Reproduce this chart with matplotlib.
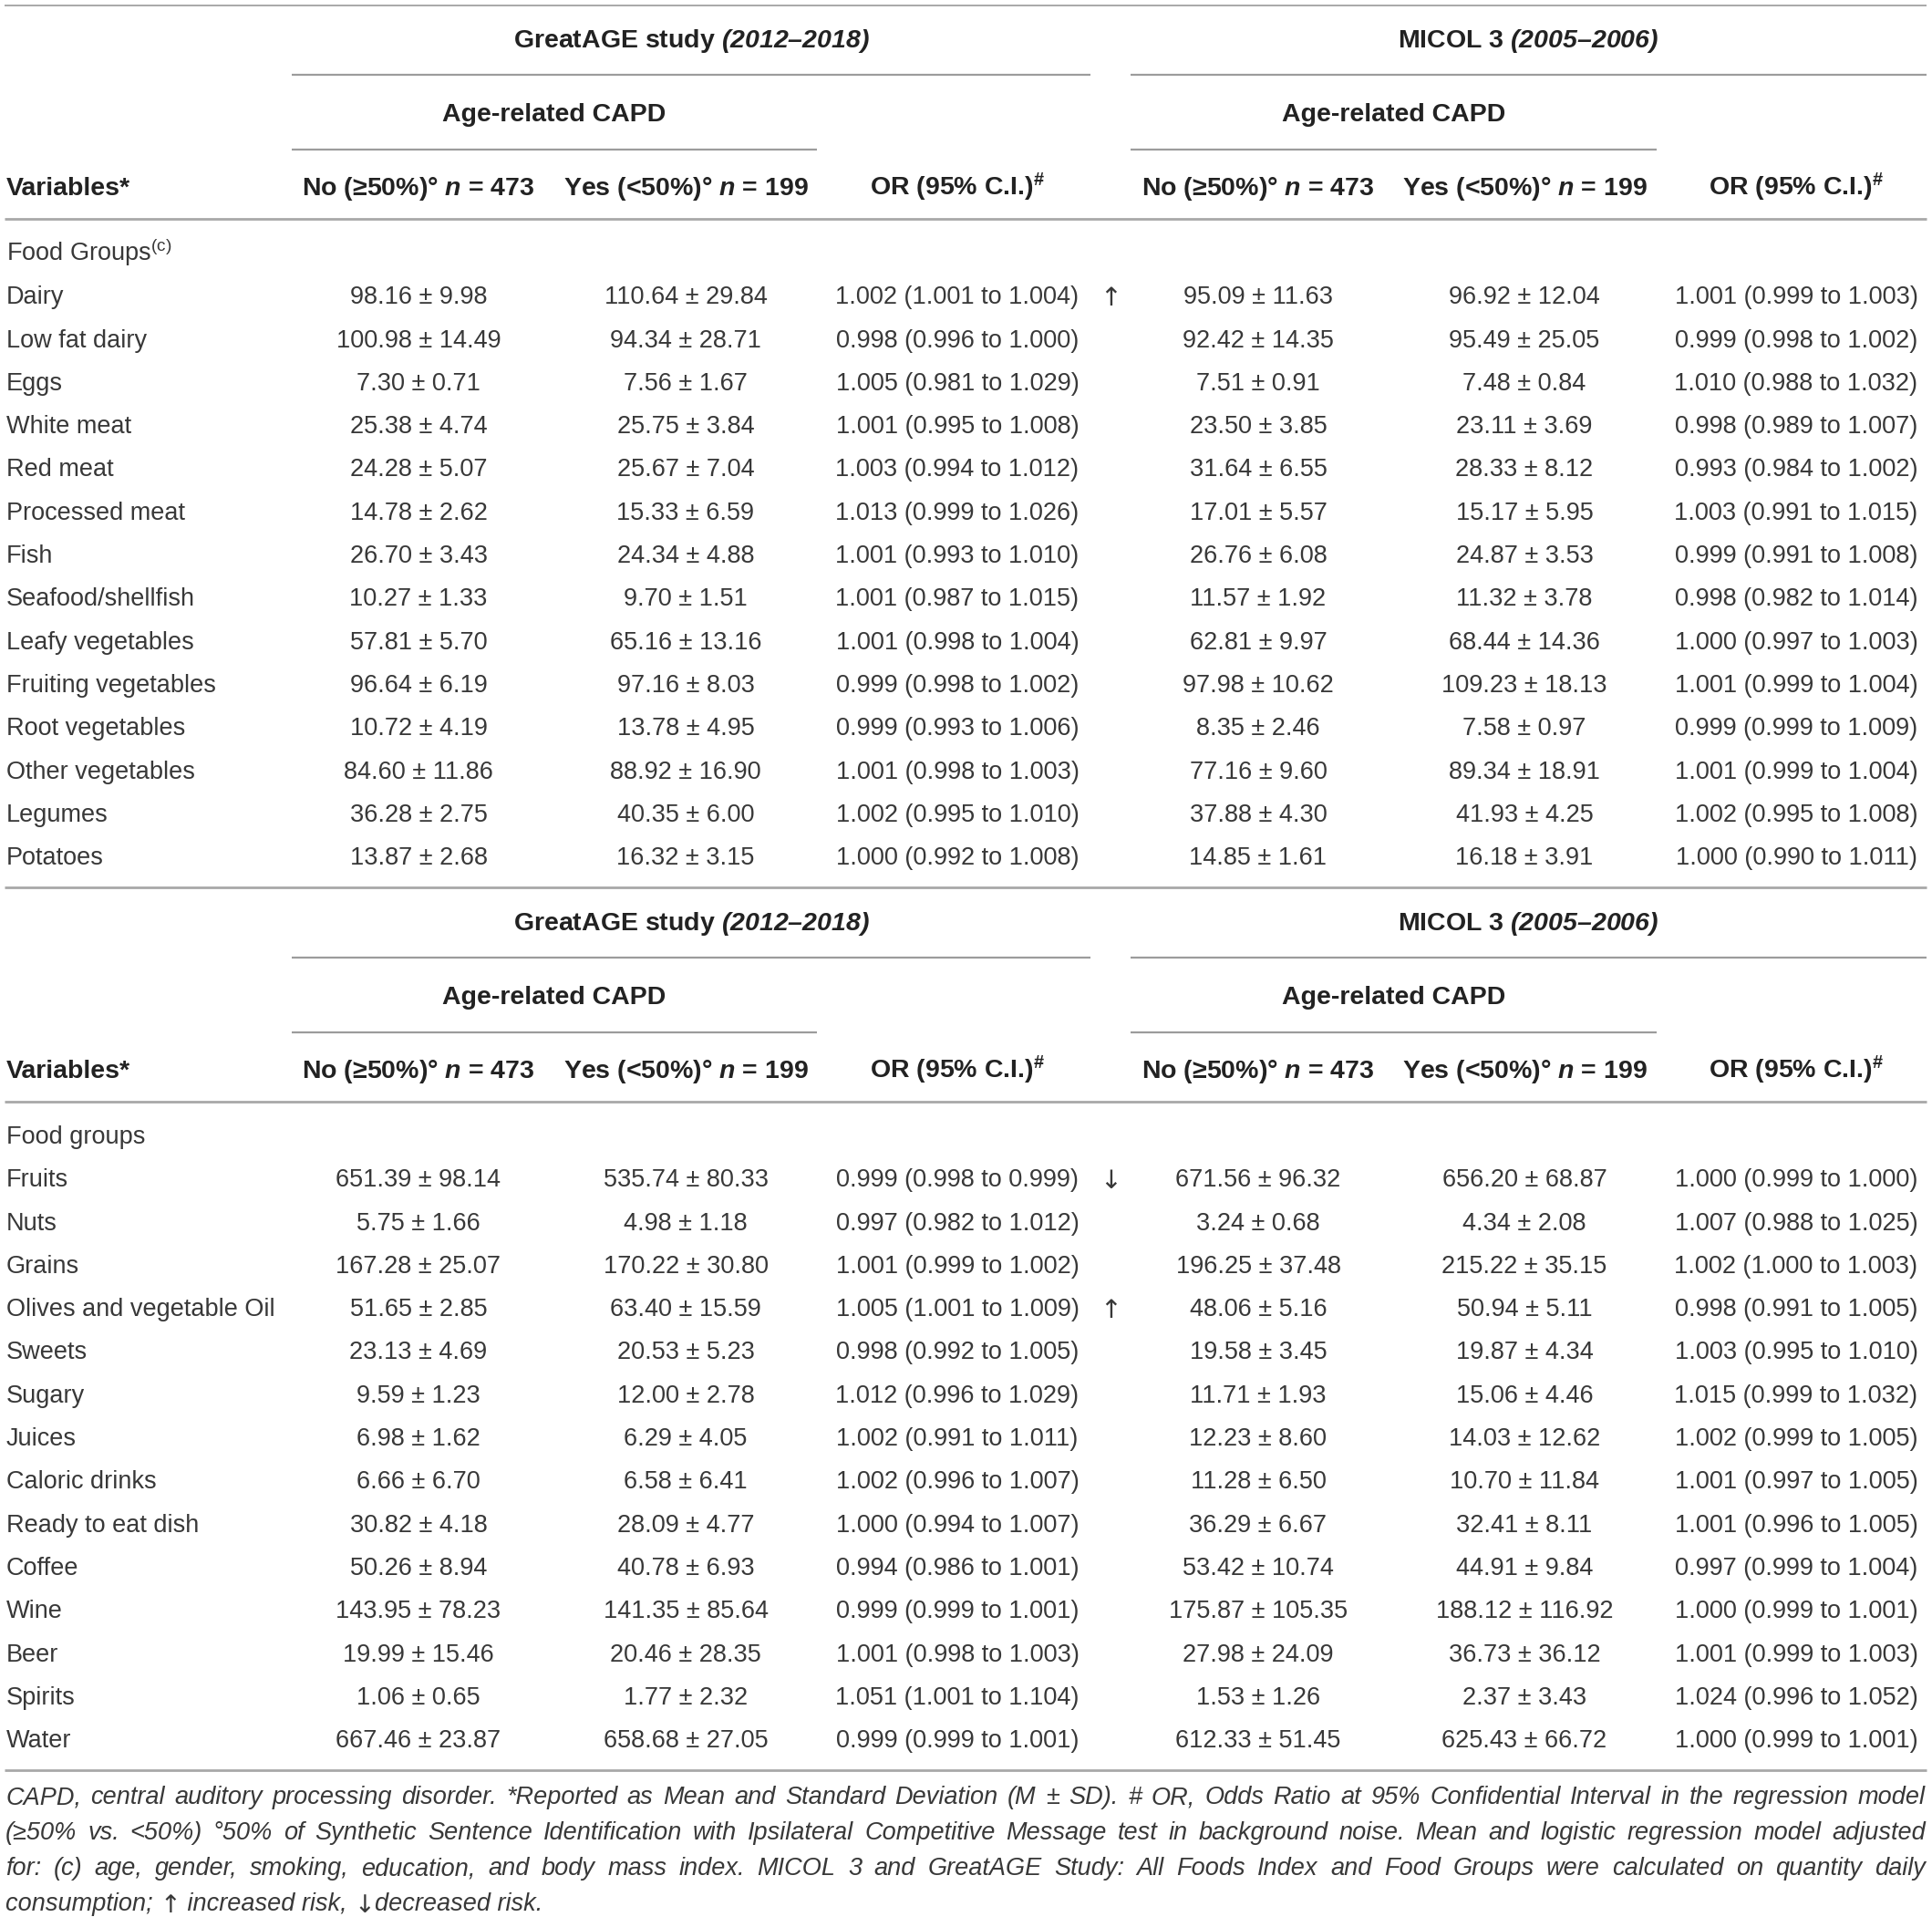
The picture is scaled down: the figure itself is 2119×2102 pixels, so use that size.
import matplotlib
matplotlib.use('Agg')
import matplotlib.pyplot as plt

plt.rcParams['font.family'] = ['Liberation Sans', 'DejaVu Sans']
plt.rcParams['mathtext.fontset'] = 'custom'
plt.rcParams['mathtext.rm'] = 'Liberation Sans'
plt.rcParams['mathtext.it'] = 'Liberation Sans:italic'
plt.rcParams['mathtext.bf'] = 'Liberation Sans:bold'
plt.rcParams['mathtext.bfit'] = 'Liberation Sans:italic:bold'

# ---- table data ----
studies = ['GreatAGE study $\\mathbfit{(2012–2018)}$', 'MICOL 3 $\\mathbfit{(2005–2006)}$']
subheader = 'Age-related CAPD'
col_heads = ['No (≥50%)° $\\mathbfit{n}$ = 473', 'Yes (<50%)° $\\mathbfit{n}$ = 199',
             'OR (95% C.I.)$^{\\mathbf{\\#}}$']
group_titles = ['Food Groups$^{\\mathrm{(c)}}$', 'Food groups']

foods_a = ['Dairy', 'Low fat dairy', 'Eggs', 'White meat', 'Red meat', 'Processed meat', 'Fish',
           'Seafood/shellfish', 'Leafy vegetables', 'Fruiting vegetables', 'Root vegetables',
           'Other vegetables', 'Legumes', 'Potatoes']
great_no_a = ['98.16 ± 9.98', '100.98 ± 14.49', '7.30 ± 0.71', '25.38 ± 4.74', '24.28 ± 5.07',
              '14.78 ± 2.62', '26.70 ± 3.43', '10.27 ± 1.33', '57.81 ± 5.70', '96.64 ± 6.19',
              '10.72 ± 4.19', '84.60 ± 11.86', '36.28 ± 2.75', '13.87 ± 2.68']
great_yes_a = ['110.64 ± 29.84', '94.34 ± 28.71', '7.56 ± 1.67', '25.75 ± 3.84', '25.67 ± 7.04',
               '15.33 ± 6.59', '24.34 ± 4.88', '9.70 ± 1.51', '65.16 ± 13.16', '97.16 ± 8.03',
               '13.78 ± 4.95', '88.92 ± 16.90', '40.35 ± 6.00', '16.32 ± 3.15']
great_or_a = ['1.002 (1.001 to 1.004)', '0.998 (0.996 to 1.000)', '1.005 (0.981 to 1.029)',
              '1.001 (0.995 to 1.008)', '1.003 (0.994 to 1.012)', '1.013 (0.999 to 1.026)',
              '1.001 (0.993 to 1.010)', '1.001 (0.987 to 1.015)', '1.001 (0.998 to 1.004)',
              '0.999 (0.998 to 1.002)', '0.999 (0.993 to 1.006)', '1.001 (0.998 to 1.003)',
              '1.002 (0.995 to 1.010)', '1.000 (0.992 to 1.008)']
micol_no_a = ['95.09 ± 11.63', '92.42 ± 14.35', '7.51 ± 0.91', '23.50 ± 3.85', '31.64 ± 6.55',
              '17.01 ± 5.57', '26.76 ± 6.08', '11.57 ± 1.92', '62.81 ± 9.97', '97.98 ± 10.62',
              '8.35 ± 2.46', '77.16 ± 9.60', '37.88 ± 4.30', '14.85 ± 1.61']
micol_yes_a = ['96.92 ± 12.04', '95.49 ± 25.05', '7.48 ± 0.84', '23.11 ± 3.69', '28.33 ± 8.12',
               '15.17 ± 5.95', '24.87 ± 3.53', '11.32 ± 3.78', '68.44 ± 14.36', '109.23 ± 18.13',
               '7.58 ± 0.97', '89.34 ± 18.91', '41.93 ± 4.25', '16.18 ± 3.91']
micol_or_a = ['1.001 (0.999 to 1.003)', '0.999 (0.998 to 1.002)', '1.010 (0.988 to 1.032)',
              '0.998 (0.989 to 1.007)', '0.993 (0.984 to 1.002)', '1.003 (0.991 to 1.015)',
              '0.999 (0.991 to 1.008)', '0.998 (0.982 to 1.014)', '1.000 (0.997 to 1.003)',
              '1.001 (0.999 to 1.004)', '0.999 (0.999 to 1.009)', '1.001 (0.999 to 1.004)',
              '1.002 (0.995 to 1.008)', '1.000 (0.990 to 1.011)']

foods_b = ['Fruits', 'Nuts', 'Grains', 'Olives and vegetable Oil', 'Sweets', 'Sugary', 'Juices',
           'Caloric drinks', 'Ready to eat dish', 'Coffee', 'Wine', 'Beer', 'Spirits', 'Water']
great_no_b = ['651.39 ± 98.14', '5.75 ± 1.66', '167.28 ± 25.07', '51.65 ± 2.85', '23.13 ± 4.69',
              '9.59 ± 1.23', '6.98 ± 1.62', '6.66 ± 6.70', '30.82 ± 4.18', '50.26 ± 8.94',
              '143.95 ± 78.23', '19.99 ± 15.46', '1.06 ± 0.65', '667.46 ± 23.87']
great_yes_b = ['535.74 ± 80.33', '4.98 ± 1.18', '170.22 ± 30.80', '63.40 ± 15.59', '20.53 ± 5.23',
               '12.00 ± 2.78', '6.29 ± 4.05', '6.58 ± 6.41', '28.09 ± 4.77', '40.78 ± 6.93',
               '141.35 ± 85.64', '20.46 ± 28.35', '1.77 ± 2.32', '658.68 ± 27.05']
great_or_b = ['0.999 (0.998 to 0.999)', '0.997 (0.982 to 1.012)', '1.001 (0.999 to 1.002)',
              '1.005 (1.001 to 1.009)', '0.998 (0.992 to 1.005)', '1.012 (0.996 to 1.029)',
              '1.002 (0.991 to 1.011)', '1.002 (0.996 to 1.007)', '1.000 (0.994 to 1.007)',
              '0.994 (0.986 to 1.001)', '0.999 (0.999 to 1.001)', '1.001 (0.998 to 1.003)',
              '1.051 (1.001 to 1.104)', '0.999 (0.999 to 1.001)']
micol_no_b = ['671.56 ± 96.32', '3.24 ± 0.68', '196.25 ± 37.48', '48.06 ± 5.16', '19.58 ± 3.45',
              '11.71 ± 1.93', '12.23 ± 8.60', '11.28 ± 6.50', '36.29 ± 6.67', '53.42 ± 10.74',
              '175.87 ± 105.35', '27.98 ± 24.09', '1.53 ± 1.26', '612.33 ± 51.45']
micol_yes_b = ['656.20 ± 68.87', '4.34 ± 2.08', '215.22 ± 35.15', '50.94 ± 5.11', '19.87 ± 4.34',
               '15.06 ± 4.46', '14.03 ± 12.62', '10.70 ± 11.84', '32.41 ± 8.11', '44.91 ± 9.84',
               '188.12 ± 116.92', '36.73 ± 36.12', '2.37 ± 3.43', '625.43 ± 66.72']
micol_or_b = ['1.000 (0.999 to 1.000)', '1.007 (0.988 to 1.025)', '1.002 (1.000 to 1.003)',
              '0.998 (0.991 to 1.005)', '1.003 (0.995 to 1.010)', '1.015 (0.999 to 1.032)',
              '1.002 (0.999 to 1.005)', '1.001 (0.997 to 1.005)', '1.001 (0.996 to 1.005)',
              '0.997 (0.999 to 1.004)', '1.000 (0.999 to 1.001)', '1.001 (0.999 to 1.003)',
              '1.024 (0.996 to 1.052)', '1.000 (0.999 to 1.001)']

risk_arrows = {'Dairy': '↑', 'Fruits': '↓', 'Olives and vegetable Oil': '↑'}

footnote = [
    'CAPD, central auditory processing disorder. *Reported as Mean and Standard Deviation (M ± SD). '
    '# OR, Odds Ratio at 95% Confidential Interval in the regression model',
    '(≥50% vs. <50%) °50% of Synthetic Sentence Identification with Ipsilateral Competitive '
    'Message test in background noise. Mean and logistic regression model adjusted',
    'for: (c) age, gender, smoking, education, and body mass index. MICOL 3 and GreatAGE Study: '
    'All Foods Index and Food Groups were calculated on quantity daily',
]
footnote_last = ['consumption; ', '↑', ' increased risk, ', '↓', 'decreased risk.']

sections = [
    (group_titles[0], foods_a, [great_no_a, great_yes_a, great_or_a, micol_no_a, micol_yes_a, micol_or_a]),
    (group_titles[1], foods_b, [great_no_b, great_yes_b, great_or_b, micol_no_b, micol_yes_b, micol_or_b]),
]

# ---- layout (pixels) ----
W, H = 2119, 2102
col_x = [459, 752, 1050, 1380, 1672, 1970]
arrow_x = 1218
study_spans = [(320, 1196), (1240, 2113)]
sub_spans = [(320, 896), (1240, 1817)]
row_h = 47.3
sec_off = 968
base = 10          # center -> baseline
fs_data, fs_head = 19.5, 20.5
c_data, c_head = '#383838', '#222222'
c_line = '#9c9c9c'
arrow_font = ['DejaVu Sans']

fig = plt.figure(figsize=(W / 100, H / 100), dpi=100)
ax = fig.add_axes([0, 0, 1, 1])
ax.set_xlim(0, W)
ax.set_ylim(H, 0)
ax.axis('off')


def hline(x0, x1, y, lw=1.6, color=c_line):
    ax.plot([x0, x1], [y, y], color=color, lw=lw, solid_capstyle='butt')


hline(5, 2113, 6, lw=1.4, color='#a8a8a8')
for s, (title, foods, cols) in enumerate(sections):
    off = s * sec_off
    # header block
    for k in range(2):
        x0, x1 = study_spans[k]
        ax.text((x0 + x1) / 2, 42 + off + base, studies[k], ha='center', va='baseline',
                fontsize=fs_head, fontweight='bold', color=c_head)
        hline(x0, x1, 82 + off)
        sx0, sx1 = sub_spans[k]
        ax.text((sx0 + sx1) / 2, 123 + off + base, subheader, ha='center', va='baseline',
                fontsize=fs_head, fontweight='bold', color=c_head)
        hline(sx0, sx1, 164 + off)
        for j in range(3):
            ax.text(col_x[3 * k + j], 204 + off + base, col_heads[j], ha='center', va='baseline',
                    fontsize=fs_head, fontweight='bold', color=c_head)
    ax.text(7, 204 + off + base, 'Variables*', ha='left', va='baseline',
            fontsize=fs_head, fontweight='bold', color=c_head)
    hline(5, 2113, 240 + off, lw=2.0, color='#a8a8a8')

    # body
    y0 = 276 + off
    ax.text(7, y0 + base, title, ha='left', va='baseline', fontsize=fs_data, color=c_data)
    for i, food in enumerate(foods):
        y = y0 + (i + 1) * row_h + base
        ax.text(7, y, food, ha='left', va='baseline', fontsize=fs_data, color=c_data)
        for j, col in enumerate(cols):
            ax.text(col_x[j], y, col[i], ha='center', va='baseline', fontsize=fs_data, color=c_data)
        if food in risk_arrows:
            ax.text(arrow_x, y + 2, risk_arrows[food], ha='center', va='baseline',
                    fontsize=fs_data + 1, color=c_data, family=arrow_font)
    hline(5, 2113, y0 + len(foods) * row_h + 35, lw=2.0, color='#a8a8a8')

# ---- justified footnote ----
fig.canvas.draw()
r = fig.canvas.get_renderer()
fx0, fx1 = 6, 2112
fn_y = [1968, 2007, 2046, 2085]
fn_size = 19.5
for line in footnote:
    probe = ax.text(0, 0, line, fontsize=fn_size, style='italic')
    w = probe.get_window_extent(r).width
    probe.remove()
    if w > 0.985 * (fx1 - fx0):
        fn_size *= 0.985 * (fx1 - fx0) / w

for n, line in enumerate(footnote):
    y = fn_y[n] + base
    words = line.split()
    texts = [ax.text(0, y, wd, ha='left', va='baseline', fontsize=fn_size, style='italic',
                     color=c_data) for wd in words]
    widths = [t.get_window_extent(r).width for t in texts]
    gap = (fx1 - fx0 - sum(widths)) / (len(words) - 1)
    x = fx0
    for t, wd in zip(texts, widths):
        t.set_x(x)
        x += wd + gap

# last line, left aligned, arrows drawn in DejaVu
x = fx0
y = fn_y[3] + base
for piece in footnote_last:
    if piece in ('↑', '↓'):
        t = ax.text(x, y + 2, piece, ha='left', va='baseline', fontsize=fn_size,
                    color=c_data, family=arrow_font)
    else:
        t = ax.text(x, y, piece.replace(' ', '\u00a0'), ha='left', va='baseline',
                    fontsize=fn_size, style='italic', color=c_data)
    x += t.get_window_extent(r).width

fig.savefig('out.png', dpi=100, facecolor='white')
